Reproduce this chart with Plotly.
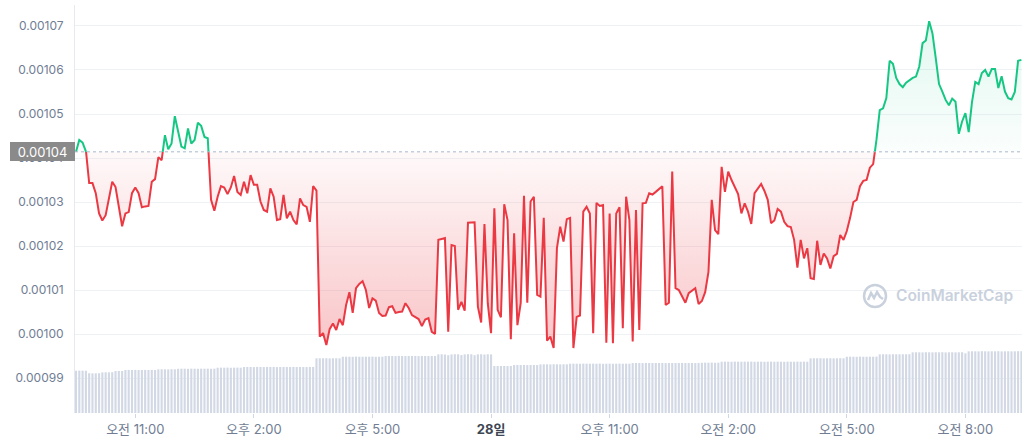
import numpy as np
import pandas as pd
import plotly.graph_objects as go

# ---------------- data ----------------
start_time = "2022-10-27 09:30"

prices = [
    0.0010414, 0.0010441, 0.0010435, 0.0010418, 0.0010343, 0.0010343, 0.0010320, 0.0010274,
    0.0010258, 0.0010270, 0.0010305, 0.0010346, 0.0010334, 0.0010289, 0.0010245, 0.0010274,
    0.0010277, 0.0010320, 0.0010333, 0.0010320, 0.0010288, 0.0010290, 0.0010291, 0.0010346,
    0.0010352, 0.0010402, 0.0010395, 0.0010452, 0.0010420, 0.0010433, 0.0010495, 0.0010460,
    0.0010426, 0.0010422, 0.0010467, 0.0010433, 0.0010441, 0.0010480, 0.0010473, 0.0010448,
    0.0010445, 0.0010305, 0.0010280, 0.0010312, 0.0010336, 0.0010333, 0.0010318, 0.0010333,
    0.0010359, 0.0010323, 0.0010316, 0.0010346, 0.0010320, 0.0010361, 0.0010339, 0.0010339,
    0.0010301, 0.0010282, 0.0010278, 0.0010331, 0.0010312, 0.0010259, 0.0010261, 0.0010316,
    0.0010263, 0.0010278, 0.0010259, 0.0010249, 0.0010308, 0.0010293, 0.0010289, 0.0010255,
    0.0010336, 0.0010326, 0.0009994, 0.0010002, 0.0009975, 0.0010011, 0.0010024, 0.0010009,
    0.0010034, 0.0010020, 0.0010066, 0.0010095, 0.0010048, 0.0010104, 0.0010114, 0.0010120,
    0.0010100, 0.0010059, 0.0010081, 0.0010076, 0.0010048, 0.0010041, 0.0010042, 0.0010061,
    0.0010063, 0.0010048, 0.0010050, 0.0010051, 0.0010070, 0.0010059, 0.0010043, 0.0010039,
    0.0010034, 0.0010018, 0.0010033, 0.0010036, 0.0010005, 0.0010000, 0.0010214, 0.0010216,
    0.0010218, 0.0010005, 0.0010202, 0.0010200, 0.0010055, 0.0010073, 0.0010053, 0.0010253,
    0.0010253, 0.0010254, 0.0010062, 0.0010026, 0.0010250, 0.0010070, 0.0010002, 0.0010286,
    0.0010055, 0.0010038, 0.0010295, 0.0010259, 0.0009988, 0.0010229, 0.0010020, 0.0010070,
    0.0010314, 0.0010071, 0.0010301, 0.0010312, 0.0010089, 0.0010085, 0.0010264, 0.0009985,
    0.0009994, 0.0009968, 0.0010195, 0.0010244, 0.0010210, 0.0010261, 0.0010264, 0.0009968,
    0.0010039, 0.0010042, 0.0010278, 0.0010289, 0.0010274, 0.0010002, 0.0010298, 0.0010291,
    0.0010293, 0.0009980, 0.0010274, 0.0009979, 0.0010274, 0.0010288, 0.0010013, 0.0010312,
    0.0010259, 0.0009983, 0.0010282, 0.0010009, 0.0010297, 0.0010298, 0.0010320, 0.0010317,
    0.0010323, 0.0010329, 0.0010336, 0.0010066, 0.0010071, 0.0010369, 0.0010104, 0.0010100,
    0.0010086, 0.0010071, 0.0010093, 0.0010098, 0.0010104, 0.0010068, 0.0010075, 0.0010095,
    0.0010141, 0.0010305, 0.0010236, 0.0010227, 0.0010380, 0.0010323, 0.0010369, 0.0010350,
    0.0010332, 0.0010318, 0.0010274, 0.0010297, 0.0010278, 0.0010250, 0.0010320, 0.0010330,
    0.0010341, 0.0010325, 0.0010305, 0.0010252, 0.0010258, 0.0010284, 0.0010278, 0.0010255,
    0.0010245, 0.0010243, 0.0010214, 0.0010151, 0.0010214, 0.0010172, 0.0010195, 0.0010127,
    0.0010125, 0.0010212, 0.0010157, 0.0010183, 0.0010172, 0.0010149, 0.0010177, 0.0010182,
    0.0010225, 0.0010214, 0.0010234, 0.0010264, 0.0010300, 0.0010305, 0.0010336, 0.0010348,
    0.0010350, 0.0010378, 0.0010386, 0.0010441, 0.0010509, 0.0010513, 0.0010536, 0.0010621,
    0.0010614, 0.0010582, 0.0010568, 0.0010561, 0.0010571, 0.0010577, 0.0010582, 0.0010585,
    0.0010608, 0.0010661, 0.0010667, 0.0010711, 0.0010683, 0.0010627, 0.0010568, 0.0010551,
    0.0010532, 0.0010520, 0.0010535, 0.0010528, 0.0010455, 0.0010483, 0.0010502, 0.0010459,
    0.0010527, 0.0010573, 0.0010568, 0.0010593, 0.0010600, 0.0010585, 0.0010602, 0.0010602,
    0.0010559, 0.0010586, 0.0010551, 0.0010536, 0.0010533, 0.0010550, 0.0010621, 0.0010623,
]

# 24h volume (thousands of USD), one bar per 5 minutes
volumes_k = [
    933, 935, 934, 932,
    878, 874, 876, 877,
    896, 899, 897, 900,
    925, 927, 926,
    948, 950, 949, 951, 947, 949, 950, 948, 951, 949,
    963, 965, 964, 962, 966, 964,
    976, 978, 977, 975, 979, 977, 976, 978, 977, 979, 976, 978,
    999, 1001, 1000, 1002, 998, 1000, 1001, 999,
    1014, 1016, 1015, 1013, 1017, 1015, 1014, 1016, 1015, 1017, 1013, 1015, 1016, 1014, 1015, 1017,
    1014, 1016, 1015, 1013, 1016, 1015,
    1206, 1208, 1207, 1209, 1205, 1207, 1208, 1206,
    1241, 1243, 1242, 1240, 1244, 1242, 1241, 1243, 1242, 1244, 1240, 1242, 1243,
    1256, 1258, 1257, 1255, 1259, 1257, 1256, 1258, 1257, 1259, 1255, 1257, 1258, 1256, 1257, 1258,
    1294, 1296, 1290, 1275, 1292, 1296, 1295, 1278, 1293, 1297, 1295, 1276, 1294, 1296, 1290, 1295, 1293,
    1036, 1038, 1037, 1039, 1035, 1037,
    1058, 1060, 1059, 1061, 1057, 1059, 1060, 1058,
    1073, 1075, 1074, 1072, 1076, 1074, 1073, 1075, 1074,
    1087, 1089, 1088, 1086, 1090, 1088, 1087, 1089, 1088, 1090, 1086, 1088, 1089, 1087, 1088, 1090,
    1087, 1089, 1088,
    1102, 1104, 1103, 1101, 1105, 1103, 1102, 1104, 1103, 1105, 1101, 1103, 1104, 1102, 1103, 1105,
    1102, 1104, 1103, 1101, 1104,
    1109, 1111, 1110, 1112, 1108, 1110,
    1131, 1133, 1132, 1130, 1134, 1132, 1131, 1133, 1132, 1134, 1130, 1132, 1133, 1131, 1132, 1134,
    1131, 1133, 1132, 1130, 1133, 1132, 1131, 1134, 1132, 1133, 1131,
    1206, 1208, 1207, 1209, 1205, 1207, 1208, 1206, 1207, 1209, 1206,
    1241, 1243, 1242, 1240, 1244, 1242, 1241, 1243, 1242, 1244,
    1294, 1296, 1295, 1293, 1297, 1295, 1294, 1296, 1295, 1297,
    1338, 1340, 1339, 1337, 1341, 1339, 1338, 1340, 1339, 1341, 1337, 1339, 1340, 1338, 1339, 1341,
    1317,
    1360, 1362, 1361, 1359, 1363, 1361, 1360, 1362, 1361, 1363, 1359, 1361, 1362, 1360, 1361, 1363, 1361,
]

tick_times = ["2022-10-27 11:00", "2022-10-27 14:00", "2022-10-27 17:00", "2022-10-27 20:00",
              "2022-10-27 23:00", "2022-10-28 02:00", "2022-10-28 05:00", "2022-10-28 08:00"]
tick_labels = ["오전 11:00", "오후 2:00", "오후 5:00", "<b><span style='color:#3d4653'>28일</span></b>",
               "오후 11:00", "오전 2:00", "오전 5:00", "오전 8:00"]
price_ticks = [0.00099, 0.00100, 0.00101, 0.00102, 0.00103, 0.00104, 0.00105, 0.00106, 0.00107]
baseline_label = "0.00104"

# ---------------- prep ----------------
base = prices[0]
price_times = pd.date_range(start_time, periods=len(prices), freq="5min")
vol_times = pd.date_range(start_time, periods=len(volumes_k), freq="5min")

t_ns = price_times.asi8.astype(float)
aug_t, aug_p = [], []
for k in range(len(prices)):
    if k > 0:
        p0, p1 = prices[k - 1], prices[k]
        if (p0 - base) * (p1 - base) < 0:
            f = (base - p0) / (p1 - p0)
            aug_t.append(t_ns[k - 1] + f * (t_ns[k] - t_ns[k - 1]))
            aug_p.append(base)
    aug_t.append(t_ns[k])
    aug_p.append(prices[k])
aug_times = pd.to_datetime(np.array(aug_t).astype("int64"))
aug_p = np.array(aug_p)
lo = np.minimum(aug_p, base)
hi = np.maximum(aug_p, base)
eps = 1e-12
red_line = [p if p <= base + eps else None for p in aug_p]
green_line = [p if p >= base - eps else None for p in aug_p]
base_line = [base] * len(aug_p)

RED = "#ea3943"
GREEN = "#16c784"
FONT = "Inter, 'Noto Sans CJK KR', sans-serif"
LABEL = "#707d93"
WM = "#c9d1dd"

fig = go.Figure()
fig.add_trace(go.Bar(x=vol_times, y=volumes_k, yaxis="y", marker_color="#d2d9e5",
                     marker_line_width=0, hoverinfo="skip"))
# red fill
fig.add_trace(go.Scatter(x=aug_times, y=base_line, yaxis="y2", mode="lines",
                         line=dict(width=0), hoverinfo="skip"))
fig.add_trace(go.Scatter(x=aug_times, y=lo, yaxis="y2", mode="lines", line=dict(width=0),
                         fill="tonexty",
                         fillgradient=dict(type="vertical",
                                           colorscale=[[0, "rgba(234,57,67,0.30)"],
                                                       [1, "rgba(234,57,67,0.03)"]],
                                           start=float(min(prices)), stop=base),
                         hoverinfo="skip"))
# green fill
fig.add_trace(go.Scatter(x=aug_times, y=base_line, yaxis="y2", mode="lines",
                         line=dict(width=0), hoverinfo="skip"))
fig.add_trace(go.Scatter(x=aug_times, y=hi, yaxis="y2", mode="lines", line=dict(width=0),
                         fill="tonexty",
                         fillgradient=dict(type="vertical",
                                           colorscale=[[0, "rgba(22,199,132,0.02)"],
                                                       [1, "rgba(22,199,132,0.13)"]],
                                           start=base, stop=float(max(prices))),
                         hoverinfo="skip"))
# lines
fig.add_trace(go.Scatter(x=aug_times, y=red_line, yaxis="y2", mode="lines",
                         line=dict(color=RED, width=2), connectgaps=False, hoverinfo="skip"))
fig.add_trace(go.Scatter(x=aug_times, y=green_line, yaxis="y2", mode="lines",
                         line=dict(color=GREEN, width=2), connectgaps=False, hoverinfo="skip"))

fig.update_layout(
    width=1024, height=441,
    margin=dict(l=75, r=2, t=5, b=28),
    paper_bgcolor="white", plot_bgcolor="white",
    showlegend=False, bargap=0.35,
    font=dict(family=FONT, color=LABEL),
    xaxis=dict(type="date", range=["2022-10-27 09:28:29", "2022-10-28 09:25:55"],
               tickvals=tick_times, ticktext=tick_labels, ticks="outside", ticklen=4,
               tickcolor="#cfd6e4", showgrid=False, showline=False, zeroline=False,
               tickfont=dict(size=13, color=LABEL, family=FONT)),
    yaxis=dict(range=[0, 9000], visible=False, fixedrange=True),
    yaxis2=dict(overlaying="y", side="left", range=[0.00098205, 0.00107477],
                tickvals=price_ticks, tickformat=".5f", showgrid=True, gridcolor="#eff2f5",
                gridwidth=1, zeroline=False, showline=True, linecolor="#e6eaf0",
                ticks="outside", ticklen=8, tickcolor="rgba(0,0,0,0)",
                tickfont=dict(size=12, color=LABEL, family=FONT)),
    shapes=[
        dict(type="line", xref="paper", x0=0, x1=1, yref="y2", y0=base, y1=base,
             line=dict(color="#a9b7cb", width=1, dash="dot"), layer="above"),
        dict(type="circle", xref="paper", yref="paper", xsizemode="pixel", ysizemode="pixel",
             xanchor=0.8448, yanchor=0.2868, x0=-11, x1=11, y0=-11, y1=11,
             line=dict(color=WM, width=2.5)),
        dict(type="path", xref="paper", yref="paper", xsizemode="pixel", ysizemode="pixel",
             xanchor=0.8448, yanchor=0.2868,
             path="M -7,-4 L -4,3 L -1,-2 L 2,4 L 5,-1 L 8,-3",
             line=dict(color=WM, width=2.5)),
    ],
    annotations=[
        dict(xref="paper", x=0, xanchor="right", yref="y2", y=base, yanchor="middle",
             text=baseline_label, showarrow=False, bgcolor="#8a8a8a", borderwidth=0,
             width=61, height=15, borderpad=2, align="center",
             font=dict(color="white", size=13, family=FONT)),
        dict(xref="paper", yref="paper", x=0.929, y=0.2868, xanchor="center", yanchor="middle",
             text="CoinMarketCap", showarrow=False,
             font=dict(color=WM, size=15.5, family=FONT, weight=600)),
    ],
)

fig.write_html("out.html", config={"displayModeBar": False},
               post_script="document.body.style.margin='0';")
